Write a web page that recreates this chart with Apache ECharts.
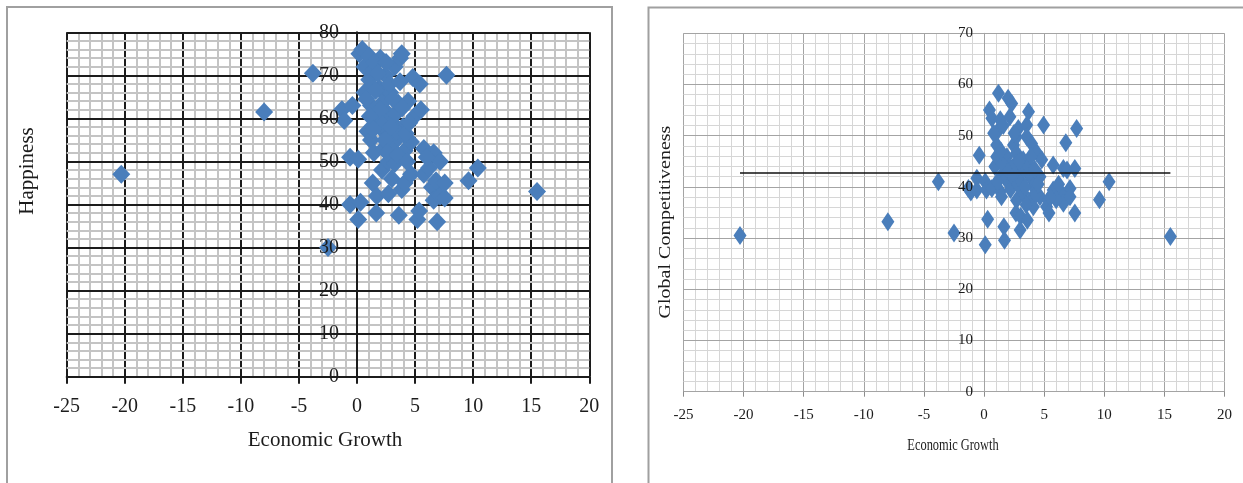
<!DOCTYPE html>
<html>
<head>
<meta charset="utf-8">
<script src="https://cdn.jsdelivr.net/npm/echarts@6/dist/echarts.min.js"></script>
<style>
  html, body { margin: 0; padding: 0; background: #ffffff; }
  #chart { width: 1243px; height: 483px; }
</style>
</head>
<body>
<div id="chart"></div>
<script>
// Economic growth (%) per country, shared by both scatter plots
const growth = [
  -20.3, -8.0, -3.8, -2.5, 15.5, 10.4, 9.6, 7.7,
  -1.3, -1.1, -0.6, -0.6, -0.4, 0.1, 0.3, 0.1, 0.2, 0.45, 0.65, 0.65,
  0.9, 1.05, 1.05, 1.2, 1.2, 1.35, 1.35, 1.45, 1.6, 1.65, 1.7, 1.9,
  2.0, 2.15, 2.15, 2.3, 2.3, 2.45, 2.7, 2.7, 2.7, 2.65, 2.85, 3.0,
  3.0, 3.05, 3.25, 3.25, 3.55, 3.55, 3.6, 3.7, 3.85, 3.85, 3.95, 4.1,
  4.1, 4.4, 4.65, 4.65, 4.8, 4.95, 5.2, 5.35, 5.4, 5.75, 5.75, 6.45,
  6.6, 6.6, 6.8, 6.9, 7.15, 7.15, 7.55, 7.55,
  1.5, 1.8, 2.0, 2.2, 2.4, 2.6, 2.8, 3.1, 3.3, 3.4, 3.5, 3.7, 3.9,
  4.2, 4.3, 1.1, 0.8, 1.6, 2.5, 4.5, 6.2, 6.0, 5.5, 1.4, 2.9
];

// Happiness score, same country order
const happiness = [
  47, 61.5, 70.5, 30, 43, 48.5, 45.5, 70,
  62, 59.5, 51, 40, 63, 36.5, 40.5, 50.5, 75, 76, 72, 66,
  57, 74.5, 69, 63, 55, 71, 45, 52, 60, 38, 42, 67,
  74, 48, 57.5, 64, 53, 70, 61, 50, 42.5, 56, 66, 46,
  54, 59, 72, 49.5, 63.5, 55.5, 37.5, 74, 75, 43.5, 58, 52.5,
  45, 64, 54.5, 47, 69.5, 60.5, 36.5, 38.5, 68, 53, 47, 44,
  52, 41, 45.5, 36, 50, 42, 41.5, 45,
  73, 70.5, 62, 58.5, 55, 52, 68, 64.5, 61, 57, 51.5, 68.5, 62.5,
  56.5, 50, 60.5, 64.5, 66.5, 73, 59, 48.5, 51, 62, 57.5, 58
];

// Global competitiveness score, same country order
const competitiveness = [
  30.5, 33.2, 41.0, 31.0, 30.3, 41.0, 37.5, 51.4,
  39.7, 39.0, 41.7, 39.4, 46.2, 28.7, 33.7, 41.0, 39.4, 55.0, 53.4, 39.7,
  44.0, 48.2, 45.9, 58.3, 51.1, 53.1, 39.1, 38.1, 42.7, 32.2, 29.6, 45.9,
  57.3, 53.7, 44.0, 56.3, 40.7, 48.2, 49.8, 46.6, 37.4, 34.9, 51.4, 42.7,
  31.6, 34.2, 45.3, 38.8, 52.1, 49.8, 33.5, 54.7, 42.0, 37.4, 48.5, 40.1,
  36.1, 46.6, 38.1, 42.0, 45.3, 52.1, 36.1, 37.4, 34.9, 44.3, 39.4, 38.8,
  43.6, 36.8, 48.6, 43.3, 39.7, 38.1, 34.9, 43.6,
  44.5, 41.5, 43.0, 39.5, 42.0, 44.5, 40.5, 41.0, 43.5, 40.0, 36.5, 44.0, 46.0,
  43.5, 38.5, 41.0, 50.5, 52.0, 50.5, 40.5, 40.5, 37.5, 38.0, 47.0, 45.0
];

// Linear trend of competitiveness against growth (end points over the data range)
const trendX = [-20.3, 15.5];
const trendY = [42.7, 42.7];

// Axis ranges and steps
const growthAxis = { min: -25, max: 20, step: 5 };
const happinessAxis = { min: 0, max: 80, step: 10 };
const competitivenessAxis = { min: 0, max: 70, step: 10 };

const SERIF = "'Liberation Serif', 'Times New Roman', serif";
const INK = '#1c1c1c';
const BLUE = '#4a7ebb';

// plot rectangles
const leftPlot = { left: 66.7, top: 32.3, width: 522.6, height: 344.4 };
const rightPlot = { left: 683.5, top: 33.3, width: 541, height: 358.4 };

// y tick labels sit beside the vertical axis at growth = 0
const zeroShift = (plot) =>
  -((0 - growthAxis.min) / (growthAxis.max - growthAxis.min)) * plot.width;

const happyPoints = growth.map((g, i) => [g, happiness[i]]);
const compPoints = growth.map((g, i) => [g, competitiveness[i]]);
const trendPoints = trendX.map((x, i) => [x, trendY[i]]);

const chart = echarts.init(document.getElementById('chart'), null, { renderer: 'canvas' });

chart.setOption({
  animation: false,
  backgroundColor: '#ffffff',
  grid: [leftPlot, rightPlot],
  xAxis: [
    {
      type: 'value', gridIndex: 0, z: 1,
      min: growthAxis.min, max: growthAxis.max, interval: growthAxis.step,
      axisLine: { show: true, lineStyle: { color: INK, width: 2 } },
      axisTick: { show: true, length: 7, lineStyle: { color: INK, width: 2 } },
      axisLabel: { margin: 20, fontFamily: SERIF, fontSize: 20, color: INK },
      splitLine: { show: true, lineStyle: { color: INK, width: 2 } },
      minorTick: { show: false, splitNumber: 5 },
      minorSplitLine: { show: true, lineStyle: { color: '#c4c4c4', width: 2 } }
    },
    {
      type: 'value', gridIndex: 1, z: 1,
      min: growthAxis.min, max: growthAxis.max, interval: growthAxis.step,
      axisLine: { show: true, lineStyle: { color: '#8c8c8c', width: 1 } },
      axisTick: { show: true, length: 5, lineStyle: { color: '#8c8c8c', width: 1 } },
      axisLabel: { margin: 16, fontFamily: SERIF, fontSize: 15, color: INK },
      splitLine: { show: true, lineStyle: { color: '#a4a4a4', width: 1 } },
      minorTick: { show: false, splitNumber: 5 },
      minorSplitLine: { show: true, lineStyle: { color: '#d6d6d6', width: 1 } }
    }
  ],
  yAxis: [
    // happiness: grid lines and axis line through growth = 0
    {
      type: 'value', gridIndex: 0, position: 'left', z: 2,
      min: happinessAxis.min, max: happinessAxis.max, interval: happinessAxis.step,
      axisLine: { show: true, onZero: true, lineStyle: { color: INK, width: 2 } },
      axisTick: { show: false },
      axisLabel: { show: false },
      splitLine: { show: true, lineStyle: { color: INK, width: 2 } },
      minorTick: { show: false, splitNumber: 5 },
      minorSplitLine: { show: true, lineStyle: { color: '#c4c4c4', width: 2 } }
    },
    // happiness: tick labels, drawn above the markers
    {
      type: 'value', gridIndex: 0, position: 'left', z: 10,
      offset: zeroShift(leftPlot),
      min: happinessAxis.min, max: happinessAxis.max, interval: happinessAxis.step,
      axisLine: { show: false, onZero: false },
      axisTick: { show: false },
      axisLabel: { margin: 18, fontFamily: SERIF, fontSize: 20, color: INK },
      splitLine: { show: false }
    },
    // competitiveness: grid lines and axis line through growth = 0
    {
      type: 'value', gridIndex: 1, position: 'left', z: 2,
      min: competitivenessAxis.min, max: competitivenessAxis.max, interval: competitivenessAxis.step,
      axisLine: { show: true, onZero: true, lineStyle: { color: '#a4a4a4', width: 1 } },
      axisTick: { show: false },
      axisLabel: { show: false },
      splitLine: { show: true, lineStyle: { color: '#a4a4a4', width: 1 } },
      minorTick: { show: false, splitNumber: 5 },
      minorSplitLine: { show: true, lineStyle: { color: '#d6d6d6', width: 1 } }
    },
    // competitiveness: tick labels, drawn above the markers
    {
      type: 'value', gridIndex: 1, position: 'left', z: 10,
      offset: zeroShift(rightPlot),
      min: competitivenessAxis.min, max: competitivenessAxis.max, interval: competitivenessAxis.step,
      axisLine: { show: false, onZero: false },
      axisTick: { show: false },
      axisLabel: { margin: 11, fontFamily: SERIF, fontSize: 15, color: INK },
      splitLine: { show: false }
    }
  ],
  series: [
    {
      name: 'Happiness', type: 'scatter', xAxisIndex: 0, yAxisIndex: 0, z: 5,
      symbol: 'diamond', symbolSize: [18, 19],
      itemStyle: { color: BLUE, opacity: 1 },
      data: happyPoints
    },
    {
      name: 'Global Competitiveness', type: 'scatter', xAxisIndex: 1, yAxisIndex: 2, z: 5,
      symbol: 'diamond', symbolSize: [13, 19],
      itemStyle: { color: BLUE, opacity: 1 },
      data: compPoints
    },
    {
      name: 'Trend', type: 'line', xAxisIndex: 1, yAxisIndex: 2, z: 6,
      symbol: 'none', silent: true,
      lineStyle: { color: '#111111', width: 1.5 },
      data: trendPoints
    }
  ],
  graphic: [
    // chart frames
    {
      type: 'rect', z: 0, silent: true,
      shape: { x: 7, y: 7, width: 605, height: 520 },
      style: { fill: 'none', stroke: '#a0a0a0', lineWidth: 2 }
    },
    {
      type: 'rect', z: 0, silent: true,
      shape: { x: 648.5, y: 7.5, width: 700, height: 520 },
      style: { fill: 'none', stroke: '#a0a0a0', lineWidth: 2 }
    },
    // axis titles
    {
      type: 'text', x: 325, y: 440, silent: true,
      style: { text: 'Economic Growth', x: 0, y: 0, align: 'center', verticalAlign: 'middle',
               font: "21px 'Liberation Serif', 'Times New Roman', serif", fill: INK }
    },
    {
      type: 'text', x: 27, y: 171, rotation: Math.PI / 2, silent: true,
      style: { text: 'Happiness', x: 0, y: 0, align: 'center', verticalAlign: 'middle',
               font: "21px 'Liberation Serif', 'Times New Roman', serif", fill: INK }
    },
    {
      type: 'text', x: 953, y: 446, scaleX: 0.73, silent: true,
      style: { text: 'Economic Growth', x: 0, y: 0, align: 'center', verticalAlign: 'middle',
               font: "17px 'Liberation Serif', 'Times New Roman', serif", fill: INK }
    },
    {
      type: 'text', x: 666, y: 222, rotation: Math.PI / 2, scaleX: 1.25, silent: true,
      style: { text: 'Global Competitiveness', x: 0, y: 0, align: 'center', verticalAlign: 'middle',
               font: "16px 'Liberation Serif', 'Times New Roman', serif", fill: INK }
    }
  ]
});
</script>
</body>
</html>
